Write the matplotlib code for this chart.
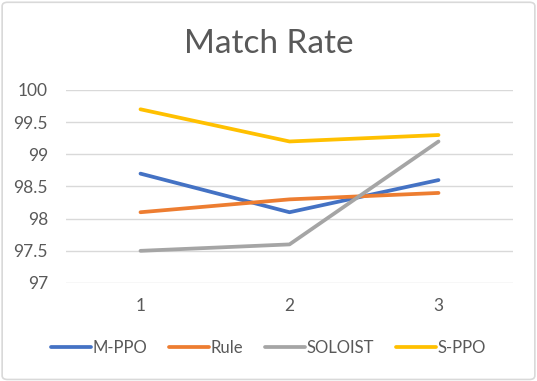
import matplotlib.pyplot as plt
from matplotlib.patches import FancyBboxPatch

# Data
runs = [1, 2, 3]
m_ppo = [98.7, 98.1, 98.6]
rule = [98.1, 98.3, 98.4]
soloist = [97.5, 97.6, 99.2]
s_ppo = [99.7, 99.2, 99.3]

series = [
    ("M-PPO", m_ppo, "#4472C4"),
    ("Rule", rule, "#ED7D31"),
    ("SOLOIST", soloist, "#A5A5A5"),
    ("S-PPO", s_ppo, "#FFC000"),
]

plt.rcParams['font.family'] = ['Lato', 'DejaVu Sans']

fig = plt.figure(figsize=(5.37, 3.81), dpi=100)
ax = fig.add_axes([66 / 537, 1 - 283 / 381, 447 / 537, 193 / 381])

# outer chart border
border = FancyBboxPatch((0.004, 0.004), 0.992, 0.99, boxstyle="round,pad=0,rounding_size=0.01",
                        transform=fig.transFigure, fill=False, edgecolor="#D9D9D9", linewidth=1.2)
fig.patches.append(border)

for name, vals, col in series:
    ax.plot(runs, vals, color=col, linewidth=2.7, label=name, solid_capstyle='round')

ax.set_xlim(0.5, 3.5)
ax.set_ylim(97, 100)
ax.set_yticks([97, 97.5, 98, 98.5, 99, 99.5, 100])
ax.set_yticklabels(['97', '97.5', '98', '98.5', '99', '99.5', '100'])
ax.set_xticks(runs)
ax.grid(axis='y', color="#D9D9D9", linewidth=1)
ax.set_axisbelow(True)
for s in ax.spines.values():
    s.set_visible(False)
ax.tick_params(length=0, labelsize=12.5, colors="#595959", pad=11)
ax.tick_params(axis='y', pad=13)

fig.text(0.5, 1 - 44 / 381, "Match Rate", ha='center', va='center', fontsize=24, color="#595959")

fig.legend(loc='center', bbox_to_anchor=(0.5, 1 - 348 / 381), ncol=4, frameon=False,
           fontsize=12, labelcolor="#595959", handlelength=2.4, handletextpad=0.1, columnspacing=1.3)

plt.savefig("out.png", dpi=100)
